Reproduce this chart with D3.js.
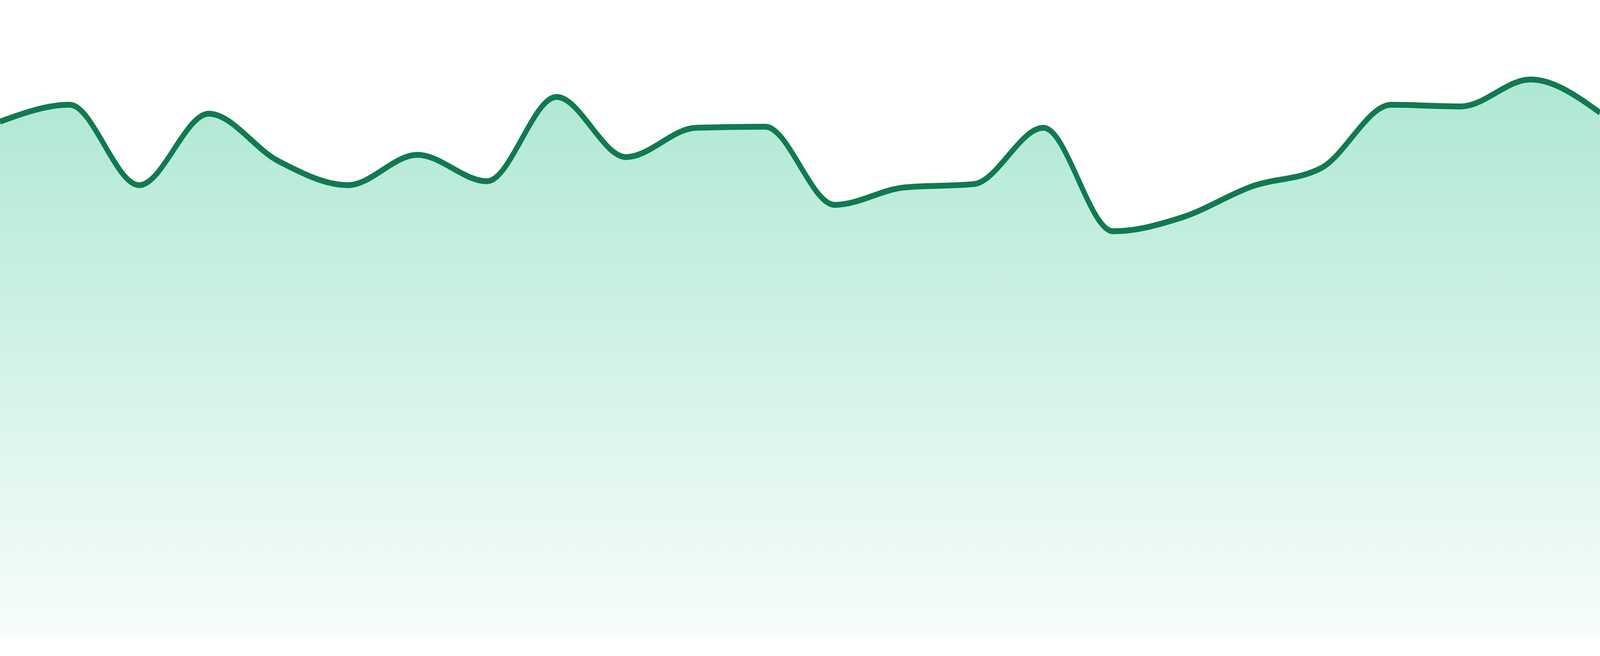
<!DOCTYPE html>
<html>
<head>
<meta charset="utf-8">
<script src="https://cdn.jsdelivr.net/npm/d3@7"></script>
<style>
  html, body { margin: 0; padding: 0; background: #fff; overflow: hidden; }
  .chart { width: 100vw; height: 100vh; }
  svg { display: block; width: 100%; height: 100%; }
</style>
</head>
<body>
<div class="chart"></div>
<script>
// one value per step
const days   = [1, 2, 3, 4, 5, 6, 7, 8, 9, 10, 11, 12,
                13, 14, 15, 16, 17, 18, 19, 20, 21, 22, 23, 24];
const values = [91.7, 94.7, 80.4, 93.1, 84.7, 80.4, 85.8, 81.1, 96.1, 85.4, 90.6, 90.8,
                76.9, 80.0, 80.6, 90.6, 72.2, 74.7, 80.2, 83.5, 94.7, 94.4, 99.2, 93.3];

// drawing space, stretched over the whole window by the viewBox
const width = 4800, height = 1680;
const margin = {top: 192, bottom: 48};

const data = days.map((d, i) => ({day: d, value: values[i]}));

const x = d3.scaleLinear()
    .domain(d3.extent(days))
    .range([0, width]);

const y = d3.scaleLinear()
    .domain([0, 100])
    .range([height - margin.bottom, margin.top]);

const svg = d3.select(".chart").append("svg")
    .attr("viewBox", "0 0 " + width + " " + height)
    .attr("preserveAspectRatio", "none");

// fill fades out towards the bottom
const grad = svg.append("defs").append("linearGradient")
    .attr("id", "fade")
    .attr("x1", 0).attr("y1", 0)
    .attr("x2", 0).attr("y2", 1);
grad.append("stop").attr("offset", "0%")
    .attr("stop-color", "#10b981").attr("stop-opacity", 0.34);
grad.append("stop").attr("offset", "100%")
    .attr("stop-color", "#10b981").attr("stop-opacity", 0.03);

const area = d3.area()
    .x(d => x(d.day))
    .y0(y(0))
    .y1(d => y(d.value))
    .curve(d3.curveMonotoneX);

const line = d3.line()
    .x(d => x(d.day))
    .y(d => y(d.value))
    .curve(d3.curveMonotoneX);

svg.append("path")
    .datum(data)
    .attr("fill", "url(#fade)")
    .attr("d", area);

svg.append("path")
    .datum(data)
    .attr("fill", "none")
    .attr("stroke", "#117a51")
    .attr("stroke-width", 15)
    .attr("stroke-linejoin", "round")
    .attr("d", line);
</script>
</body>
</html>
